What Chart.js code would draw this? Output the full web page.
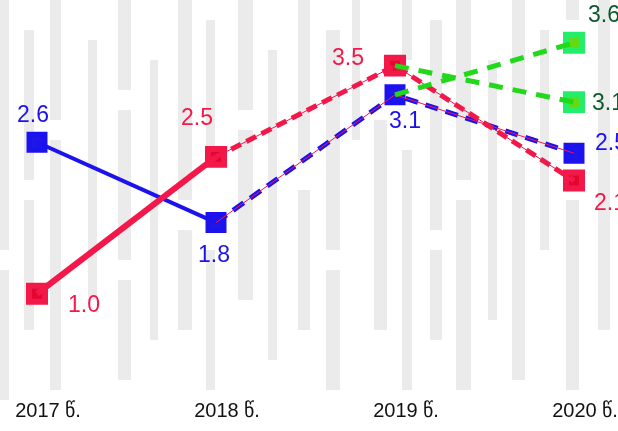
<!DOCTYPE html>
<html>
<head>
<meta charset="utf-8">
<script src="https://cdn.jsdelivr.net/npm/chart.js@4.4.0/dist/chart.umd.min.js"></script>
<style>
  html, body { margin: 0; padding: 0; background: #fff; }
  #wrap { width: 618px; height: 431px; position: relative; }
</style>
</head>
<body>
<div id="wrap"><canvas id="chart"></canvas></div>
<script>
// categories and values
const years = ['2017 წ.', '2018 წ.', '2019 წ.', '2020 წ.'];
const redValues = [1.0, 2.5, 3.5, 2.24];
const blueValues = [2.66, 1.78, 3.18, 2.54];
const greenHigh = [null, null, 3.18, 3.75];   // forecast from the blue 2019 point
const greenLow = [null, null, 3.5, 3.10];     // forecast from the red 2019 point

// printed labels
const redLabels = ['1.0', '2.5', '3.5', '2.1'];
const blueLabels = ['2.6', '1.8', '3.1', '2.5'];
const greenHighLabel = '3.6';
const greenLowLabel = '3.1';

const RED = '#f2184a', BLUE = '#1c12ee', GREEN = '#22d81a';

const solidPart = arr => arr.map((v, i) => i <= 1 ? v : null);
const dashedPart = arr => arr.map((v, i) => i >= 1 ? v : null);
const lastOnly = arr => arr.map((v, i) => i === arr.length - 1 ? v : null);

function lineSet(data, color, width, dash, order) {
  return { data, borderColor: color, borderWidth: width, borderDash: dash || [],
    pointRadius: 0, fill: false, tension: 0, spanGaps: false, order };
}
function markerSet(data, fillCol, borderCol, r, bw, order) {
  return { data, showLine: false, pointStyle: 'rect', pointRadius: r, pointHoverRadius: r,
    pointBackgroundColor: fillCol, pointBorderColor: borderCol, pointBorderWidth: bw, order };
}

// faint watermark behind the chart: [x, width, [top, bottom] segments]
const stripes = [
  [0, 9, [[0, 250], [270, 400]]], [24, 10, [[30, 180], [200, 330]]], [50, 11, [[0, 120], [140, 390]]],
  [88, 9, [[40, 300]]], [118, 13, [[0, 90], [110, 260], [280, 380]]], [150, 8, [[60, 340]]],
  [178, 14, [[0, 200], [230, 330]]], [206, 9, [[20, 150], [250, 390]]], [238, 15, [[0, 110], [130, 300]]],
  [268, 9, [[50, 360]]], [298, 12, [[0, 160], [190, 330]]], [326, 14, [[30, 250], [270, 390]]],
  [352, 8, [[0, 140]]], [374, 13, [[120, 330]]], [402, 10, [[0, 60], [150, 390]]],
  [430, 12, [[20, 230], [250, 340]]], [456, 15, [[0, 180], [200, 390]]], [488, 9, [[60, 320]]],
  [512, 13, [[0, 140], [160, 380]]], [540, 9, [[30, 250]]], [566, 13, [[0, 20], [200, 390]]], [598, 12, [[0, 330]]]
];
const watermark = {
  id: 'watermark',
  beforeDraw(chart) {
    const ctx = chart.ctx;
    ctx.save();
    ctx.fillStyle = '#ebebeb';
    stripes.forEach(([x, w, segs]) => {
      segs.forEach(([t, b]) => ctx.fillRect(x, t, w, b - t));
    });
    ctx.restore();
  }
};

// value labels next to the markers
const labelSpecs = [
  { ds: 0, labels: redLabels, color: RED, offs: [[47,12,'center'],[-19,-38,'center'],[-47,-7,'center'],[20,23,'left']] },
  { ds: 1, labels: blueLabels, color: BLUE, offs: [[-4,-27,'center'],[-2,33,'center'],[10,27,'center'],[21,-10,'left']] },
  { ds: 2, labels: [null, null, null, greenHighLabel], color: '#0b5a2c', offs: [null,null,null,[14,-27,'left']] },
  { ds: 3, labels: [null, null, null, greenLowLabel], color: '#0b5a2c', offs: [null,null,null,[18,2,'left']] }
];
const valueLabels = {
  id: 'valueLabels',
  afterDatasetsDraw(chart) {
    const ctx = chart.ctx;
    ctx.save();
    ctx.font = '23px "Liberation Sans", Arial, sans-serif';
    ctx.textBaseline = 'middle';
    labelSpecs.forEach(spec => {
      const meta = chart.getDatasetMeta(spec.ds);
      spec.labels.forEach((txt, i) => {
        if (txt === null) return;
        const pt = meta.data[i];
        const [dx, dy, align] = spec.offs[i];
        ctx.fillStyle = spec.color;
        ctx.textAlign = align;
        ctx.fillText(txt, pt.x + dx, pt.y + dy);
      });
    });
    ctx.restore();
  }
};

new Chart(document.getElementById('chart'), {
  type: 'line',
  data: {
    labels: years,
    datasets: [
      // markers (drawn underneath the lines, higher order)
      markerSet(redValues, '#e4062e', RED, 11.3, 6, 10),
      markerSet(blueValues, '#1d18e8', BLUE, 11.3, 5, 10),
      markerSet(lastOnly(greenHigh), '#62da14', '#22ee6a', 11.3, 6, 10),
      markerSet(lastOnly(greenLow), '#62da14', '#22ee6a', 11.3, 6, 10),
      // lines
      lineSet(solidPart(redValues), RED, 6, null, 2),
      lineSet(solidPart(blueValues), BLUE, 4, null, 2),
      lineSet(dashedPart(redValues), RED, 5, [11, 6], 2),
      lineSet(dashedPart(blueValues), BLUE, 5, [13, 8], 2),
      lineSet(dashedPart(redValues), RED, 1, null, 1),
      lineSet(dashedPart(blueValues), RED, 1, null, 1),
      lineSet(greenLow, GREEN, 5, [14, 10], 0),
      lineSet(greenHigh, GREEN, 5, [14, 10], 0)
    ]
  },
  options: {
    responsive: true,
    maintainAspectRatio: false,
    animation: false,
    layout: { padding: { left: 37, right: 44, top: 20, bottom: 6 } },
    plugins: { legend: { display: false }, tooltip: { enabled: false } },
    scales: {
      x: {
        offset: false,
        grid: { display: false, drawTicks: false },
        border: { display: false },
        afterFit(scale) { scale.paddingLeft = 0; scale.paddingRight = 0; scale.height = 40; },
        ticks: { color: '#111', padding: 14, labelOffset: 11, maxRotation: 0, autoSkip: false,
          font: { size: 20, family: '"Liberation Sans", Arial, sans-serif' } }
      },
      y: { display: false, min: 0, max: 4 }
    }
  },
  plugins: [watermark, valueLabels]
});
</script>
</body>
</html>
